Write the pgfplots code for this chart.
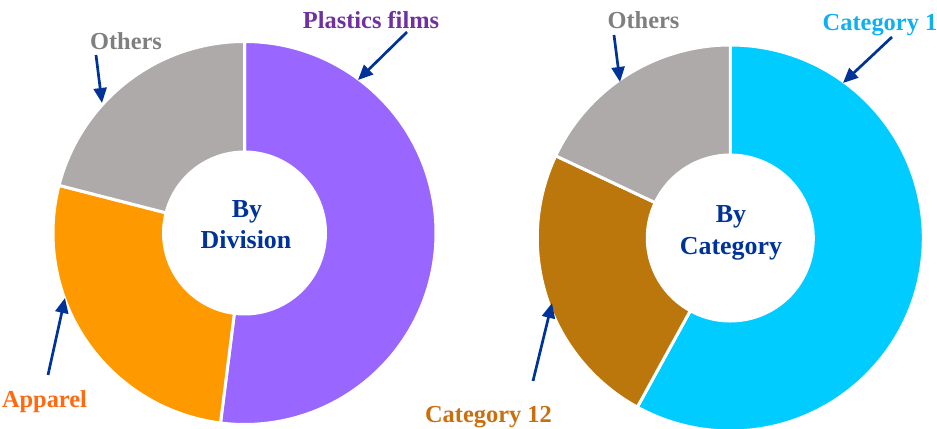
\documentclass[border=0pt]{standalone}
\usepackage{fontspec}
\setmainfont{LiberationSerif}[Extension=.ttf, UprightFont=*-Regular, BoldFont=*-Bold, ItalicFont=*-Italic, BoldItalicFont=*-BoldItalic]
\usepackage{pgfplots}
\usepackage{pgfplotstable}
\pgfplotsset{compat=1.18}
\usetikzlibrary{arrows.meta}

\definecolor{cPurple}{HTML}{9966FF}
\definecolor{cOrange}{HTML}{FF9900}
\definecolor{cGrey}{HTML}{AEAAAA}
\definecolor{cCyan}{HTML}{00CCFF}
\definecolor{cBrown}{HTML}{BB770B}
\definecolor{tPurple}{HTML}{7030A0}
\definecolor{tGrey}{HTML}{7F7F7F}
\definecolor{tOrange}{HTML}{FF6A10}
\definecolor{tCyan}{HTML}{10B0F0}
\definecolor{tBrown}{HTML}{C8700F}
\definecolor{navy}{HTML}{003399}

\pgfplotstableread{
value color
52 cPurple
27 cOrange
21 cGrey
}\divisiontable

\pgfplotstableread{
value color
58 cCyan
24 cBrown
18 cGrey
}\categorytable

% #1 table, #2 cx, #3 cy, #4 outer radius, #5 inner radius
\newcommand\donut[5]{%
  \pgfplotstablegetrowsof{#1}%
  \pgfmathtruncatemacro\nrows{\pgfplotsretval-1}%
  \def\cum{0}%
  \pgfplotsforeachungrouped \i in {0,...,\nrows}{%
    \pgfplotstablegetelem{\i}{value}\of{#1}\let\val\pgfplotsretval
    \pgfplotstablegetelem{\i}{color}\of{#1}\let\col\pgfplotsretval
    \pgfmathsetmacro\aone{90-3.6*\cum}%
    \pgfmathsetmacro\atwo{90-3.6*(\cum+\val)}%
    \edef\temp{\noexpand\fill[\col, draw=white, line width=3bp]
      (axis cs:{#2+#4*cos(\aone)},{#3+#4*sin(\aone)})
      arc[start angle=\aone, end angle=\atwo, radius=#4bp]
      -- (axis cs:{#2+#5*cos(\atwo)},{#3+#5*sin(\atwo)})
      arc[start angle=\atwo, end angle=\aone, radius=#5bp] -- cycle;}%
    \temp
    \pgfmathsetmacro\cum{\cum+\val}%
  }%
}

\begin{document}
\begin{tikzpicture}[
  lab/.style={font=\fontsize{24.5}{28}\selectfont\rmfamily\bfseries, anchor=base, inner sep=0pt},
  ctr/.style={font=\fontsize{26}{30}\selectfont\rmfamily\bfseries, anchor=base, inner sep=0pt, text=navy},
  arr/.style={navy, line width=2.7bp, -{Triangle[length=15bp, width=13bp]}}]
\useasboundingbox (0,0) rectangle (937bp,429bp);
\begin{axis}[hide axis, x=1bp, y=1bp, xmin=0, xmax=937, ymin=0, ymax=429,
  clip=false, at={(0,0)}, anchor=south west]

\donut{\divisiontable}{244.5}{196}{191.5}{81}
\donut{\categorytable}{730.3}{191}{193}{83}

% centre texts
\node[ctr] at (axis cs:247,211) {By};
\node[ctr] at (axis cs:246,180) {Division};
\node[ctr] at (axis cs:731,206) {By};
\node[ctr] at (axis cs:731,174) {Category};

% labels
\node[lab, text=tPurple] at (axis cs:371,400.5) {Plastics films};
\node[lab, text=tGrey] at (axis cs:126,379) {Others};
\node[lab, text=tOrange] at (axis cs:44.5,21) {Apparel};
\node[lab, text=tGrey] at (axis cs:643.5,400) {Others};
\node[lab, text=tCyan] at (axis cs:880,398) {Category 1};
\node[lab, text=tBrown] at (axis cs:488.5,6) {Category 12};

% arrows
\draw[arr] (axis cs:407,397) -- (axis cs:358,349);
\draw[arr] (axis cs:96,374) -- (axis cs:102,326);
\draw[arr] (axis cs:48,54) -- (axis cs:65,131);
\draw[arr] (axis cs:614,394) -- (axis cs:620,347);
\draw[arr] (axis cs:892,392) -- (axis cs:843,346);
\draw[arr] (axis cs:533,48) -- (axis cs:552,126);
\end{axis}
\end{tikzpicture}
\end{document}
